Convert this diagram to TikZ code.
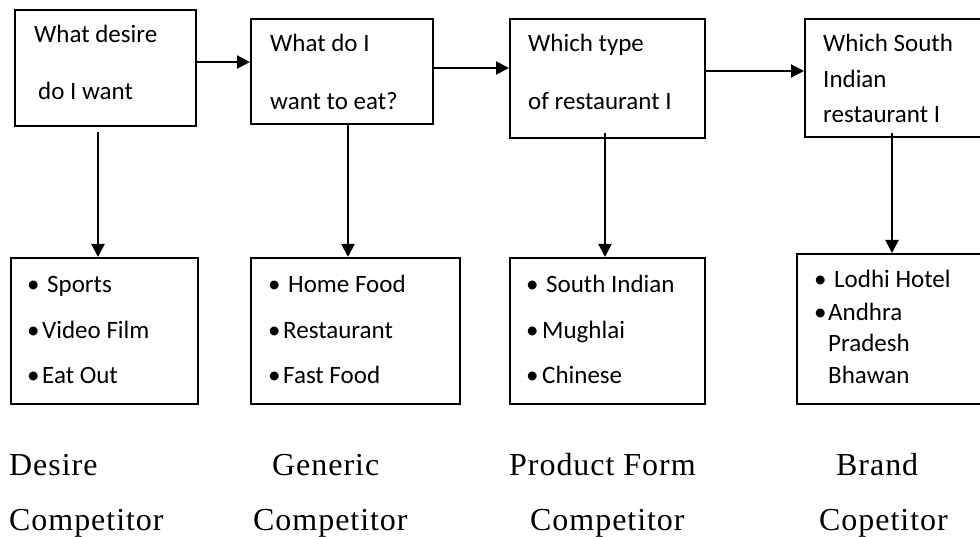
\documentclass[tikz,border=0pt]{standalone}
\usepackage{fontspec}
\setmainfont{Carlito}
\newfontfamily\labelfont{Liberation Serif}[LetterSpace=3]
\usetikzlibrary{arrows.meta}

\begin{document}
\begin{tikzpicture}[x=1pt,y=-1pt,
  box/.style={draw, line width=1.8pt, inner sep=0pt, anchor=north west},
  arr/.style={line width=2pt, -{Triangle[length=13pt,width=13pt]}},
  txt/.style={anchor=base west, inner sep=0pt, font=\fontsize{25}{30}\selectfont},
  lab/.style={anchor=base west, inner sep=0pt, font=\labelfont\fontsize{32}{38}\selectfont}]
\useasboundingbox (0,0) rectangle (980,537);
\clip (0,0) rectangle (980,537);

% question boxes along the top
\node[box, minimum width=181pt, minimum height=116pt] (q1) at (14,9) {};
\node[box, minimum width=182pt, minimum height=105pt] (q2) at (250,18) {};
\node[box, minimum width=195pt, minimum height=119pt] (q3) at (509,18) {};
\node[box, minimum width=200pt, minimum height=118pt] (q4) at (804,18) {};

% answer boxes along the bottom
\node[box, minimum width=187pt, minimum height=146pt] (a1) at (10,257) {};
\node[box, minimum width=209pt, minimum height=146pt] (a2) at (250,257) {};
\node[box, minimum width=195pt, minimum height=146pt] (a3) at (509,257) {};
\node[box, minimum width=200pt, minimum height=150pt] (a4) at (796,253) {};

% question texts
\node[txt] (q1a) at (34,43) {What desire};
\node[txt] (q1b) at (38,100) {do I want};
\node[txt] (q2a) at (270,52) {What do I};
\node[txt] (q2b) at (270,110) {want to eat?};
\node[txt] (q3a) at (528,52) {Which type};
\node[txt] (q3b) at (528,110) {of restaurant I};
\node[txt] (q4a) at (823,52) {Which South};
\node[txt] (q4b) at (823,88) {Indian};
\node[txt] (q4c) at (823,123) {restaurant I};

% answer lists
\node[txt] (a1p1) at (27,293) {•};
\node[txt] (a1t1) at (47,293) {Sports};
\node[txt] (a1p2) at (27,338) {•};
\node[txt] (a1t2) at (42,338) {Video Film};
\node[txt] (a1p3) at (27,383) {•};
\node[txt] (a1t3) at (42,383) {Eat Out};

\node[txt] (a2p1) at (268,293) {•};
\node[txt] (a2t1) at (288,293) {Home Food};
\node[txt] (a2p2) at (268,338) {•};
\node[txt] (a2t2) at (283,338) {Restaurant};
\node[txt] (a2p3) at (268,383) {•};
\node[txt] (a2t3) at (283,383) {Fast Food};

\node[txt] (a3p1) at (526,293) {•};
\node[txt] (a3t1) at (546,293) {South Indian};
\node[txt] (a3p2) at (526,338) {•};
\node[txt] (a3t2) at (542,338) {Mughlai};
\node[txt] (a3p3) at (526,383) {•};
\node[txt] (a3t3) at (542,383) {Chinese};

\node[txt] (a4p1) at (814,288) {•};
\node[txt] (a4t1) at (834,288) {Lodhi Hotel};
\node[txt] (a4p2) at (814,321) {•};
\node[txt] (a4t2) at (828,321) {Andhra};
\node[txt] (a4t3) at (828,352) {Pradesh};
\node[txt] (a4t4) at (828,383) {Bhawan};

% competitor labels
\node[lab] (l1a) at (9,475) {Desire};
\node[lab] (l1b) at (9,530) {Competitor};
\node[lab] (l2a) at (272,475) {Generic};
\node[lab] (l2b) at (253,530) {Competitor};
\node[lab] (l3a) at (509,475) {Product Form};
\node[lab] (l3b) at (530,530) {Competitor};
\node[lab] (l4a) at (836,475) {Brand};
\node[lab] (l4b) at (819,530) {Copetitor};

% flow between the questions
\draw[arr] (q1.east |- 0,62) -- (q2.west |- 0,62);
\draw[arr] (q2.east |- 0,68) -- (q3.west |- 0,68);
\draw[arr] (q3.east |- 0,71) -- (q4.west |- 0,71);

% from each question down to its answers
\coordinate (d1) at (98,132);
\coordinate (d2) at (348,125);
\coordinate (d3) at (605,133);
\coordinate (d4) at (892,133);
\draw[arr] (d1) -- (d1 |- a1.north);
\draw[arr] (d2) -- (d2 |- a2.north);
\draw[arr] (d3) -- (d3 |- a3.north);
\draw[arr] (d4) -- (d4 |- a4.north);
\end{tikzpicture}
\end{document}
